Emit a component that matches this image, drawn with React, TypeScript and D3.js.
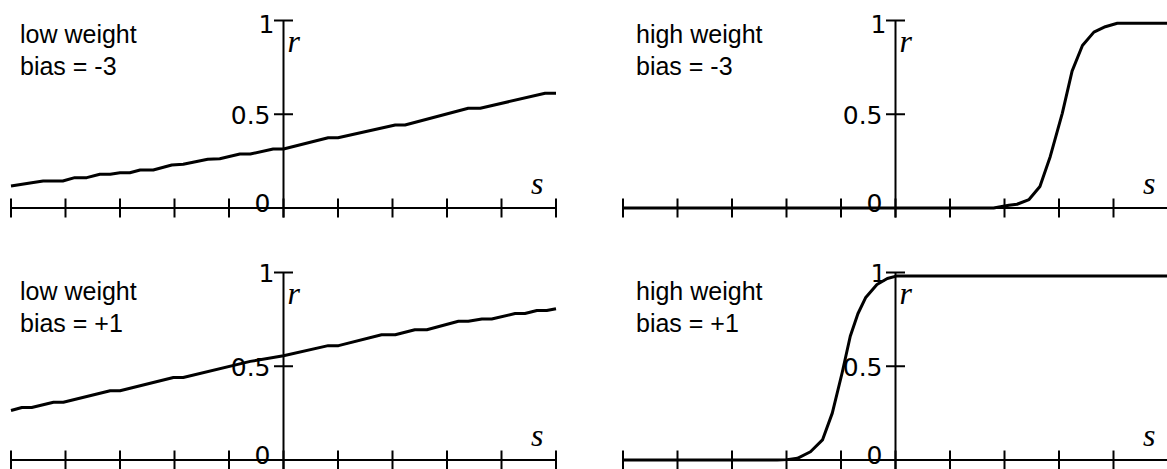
import React from "react";
import * as d3 from "d3";

// Axis ticks
const sTicks = [-5, -4, -3, -2, -1, 0, 1, 2, 3, 4, 5];
const rTicks = [0, 0.5, 1];
const rTickLabels = ["0", "0.5", "1"];

// Panel captions
const weightLabels = ["low weight", "high weight"];
const biasLabels = ["bias = -3", "bias = +1"];

// low weight, bias = -3
const lowNeg3S = [-5, -4.62, -4.41, -4.05, -3.83, -3.61, -3.37, -3.18, -3.0, -2.82, -2.63, -2.39, -2.05, -1.84, -1.39, -1.17, -0.8, -0.61, -0.19, 0, 0.82, 1.0, 2.05, 2.23, 3.39, 3.61, 4.8, 5];
const lowNeg3R = [0.117, 0.135, 0.144, 0.144, 0.162, 0.162, 0.18, 0.18, 0.188, 0.188, 0.203, 0.203, 0.229, 0.233, 0.26, 0.263, 0.288, 0.288, 0.315, 0.315, 0.375, 0.375, 0.443, 0.443, 0.532, 0.532, 0.612, 0.612];

// high weight, bias = -3
const highNeg3S = [-5, 1.8, 2.08, 2.23, 2.45, 2.65, 2.84, 3.06, 3.24, 3.43, 3.64, 3.85, 4.07, 5];
const highNeg3R = [0, 0, 0.015, 0.02, 0.045, 0.115, 0.275, 0.505, 0.73, 0.867, 0.938, 0.967, 0.985, 0.985];

// low weight, bias = +1
const lowPos1S = [-5, -4.8, -4.62, -4.22, -4.04, -3.18, -3.0, -2.02, -1.84, -0.61, 0, 0.82, 1.01, 1.8, 2.05, 2.41, 2.63, 3.21, 3.39, 3.64, 3.82, 4.25, 4.43, 4.65, 4.83, 5];
const lowPos1R = [0.264, 0.28, 0.28, 0.308, 0.308, 0.369, 0.369, 0.44, 0.44, 0.526, 0.556, 0.61, 0.61, 0.668, 0.668, 0.695, 0.695, 0.74, 0.74, 0.752, 0.752, 0.781, 0.781, 0.797, 0.797, 0.807];

// high weight, bias = +1
const highPos1S = [-5, -2.17, -1.99, -1.8, -1.56, -1.34, -1.16, -0.98, -0.83, -0.69, -0.55, -0.34, -0.15, 0.03, 5];
const highPos1R = [0, 0, 0.002, 0.009, 0.044, 0.107, 0.25, 0.464, 0.66, 0.78, 0.865, 0.936, 0.968, 0.982, 0.982];

type Panel = {
  originX: number;
  originY: number;
  weight: number;
  bias: number;
  s: number[];
  r: number[];
  captionX: number;
  captionY: number;
};

const panels: Panel[] = [
  { originX: 283.5, originY: 208, weight: 0, bias: 0, s: lowNeg3S, r: lowNeg3R, captionX: 20, captionY: 43 },
  { originX: 895.5, originY: 208, weight: 1, bias: 0, s: highNeg3S, r: highNeg3R, captionX: 636, captionY: 43 },
  { originX: 283.5, originY: 460, weight: 0, bias: 1, s: lowPos1S, r: lowPos1R, captionX: 20, captionY: 300 },
  { originX: 895.5, originY: 460, weight: 1, bias: 1, s: highPos1S, r: highPos1R, captionX: 636, captionY: 300 },
];

const HALF_W = 272.5;
const PLOT_H = 187.5;
const TICK = 9.5;

function SigmoidPanel({ p }: { p: Panel }) {
  const x = d3.scaleLinear().domain([-5, 5]).range([p.originX - HALF_W, p.originX + HALF_W]);
  const y = d3.scaleLinear().domain([0, 1]).range([p.originY, p.originY - PLOT_H]);
  const pts = p.s.map((s, i) => [s, p.r[i]] as [number, number]);
  const line = d3
    .line<[number, number]>()
    .x((d) => x(d[0]))
    .y((d) => y(d[1]));
  const x0 = x(0);
  const labelFont = "'DejaVu Sans', sans-serif";

  return (
    <g>
      {/* s axis */}
      <line x1={x(-5)} x2={x(5)} y1={y(0)} y2={y(0)} stroke="#000" strokeWidth={2} />
      {sTicks.map((t) => (
        <line key={"xt" + t} x1={x(t)} x2={x(t)} y1={y(0) - TICK} y2={y(0) + TICK} stroke="#000" strokeWidth={2} />
      ))}
      {/* r axis */}
      <line x1={x0} x2={x0} y1={y(1)} y2={y(0) + TICK} stroke="#000" strokeWidth={2} />
      {rTicks.map((t, i) => {
        const ty = y(t);
        const isOne = t === 1;
        const isZero = t === 0;
        const baseline = isZero ? ty + 4 : Math.max(ty + 9.5, 33);
        return (
          <g key={"yt" + t}>
            <line x1={x0 - TICK} x2={x0 + TICK} y1={ty} y2={ty} stroke="#000" strokeWidth={2} />
            <text
              x={x0 - (isOne ? 9 : 13)}
              y={baseline}
              textAnchor="end"
              fontFamily={labelFont}
              fontSize={25}
              fill="#000"
            >
              {rTickLabels[i]}
            </text>
          </g>
        );
      })}
      {/* axis names */}
      <text x={x0 + 4} y={y(1) + 31} fontFamily="'Liberation Serif', serif" fontStyle="italic" fontSize={32} fill="#000">
        r
      </text>
      <text x={x(5) - 25} y={y(0) - 14} fontFamily="'Liberation Serif', serif" fontStyle="italic" fontSize={32} fill="#000">
        s
      </text>
      {/* response curve */}
      <path d={line(pts) ?? ""} fill="none" stroke="#000" strokeWidth={3} strokeLinejoin="round" />
      {/* caption */}
      <text fontFamily="'Liberation Sans', Arial, sans-serif" fontSize={25} fill="#000">
        <tspan x={p.captionX} y={p.captionY}>{weightLabels[p.weight]}</tspan>
        <tspan x={p.captionX} y={p.captionY + 32}>{biasLabels[p.bias]}</tspan>
      </text>
    </g>
  );
}

export default function App() {
  return (
    <svg
      width={1167}
      height={469}
      viewBox="0 0 1167 469"
      style={{ position: "absolute", left: 0, top: 0, background: "#fff" }}
    >
      <rect width={1167} height={469} fill="#fff" />
      {panels.map((p, i) => (
        <SigmoidPanel key={i} p={p} />
      ))}
    </svg>
  );
}
